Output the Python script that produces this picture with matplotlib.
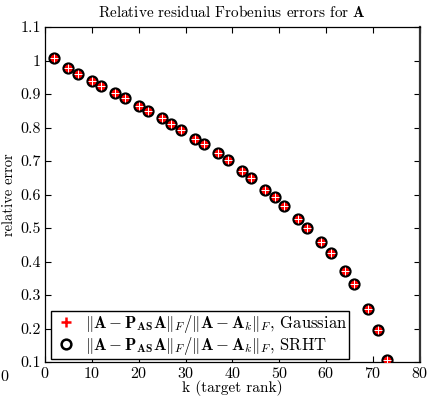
import numpy as np
import matplotlib
matplotlib.use("Agg")
import matplotlib.pyplot as plt
from matplotlib.lines import Line2D
from matplotlib.ticker import FuncFormatter

plt.rcParams['font.family'] = ['cmr10', 'DejaVu Serif']
plt.rcParams['mathtext.fontset'] = 'cm'
plt.rcParams['axes.formatter.use_mathtext'] = True
plt.rcParams['font.size'] = 11

# target rank k
k = [2, 5, 7, 10, 12, 15, 17, 20, 22, 25, 27, 29, 32, 34, 37, 39, 42, 44,
     47, 49, 51, 54, 56, 59, 61, 64, 66, 69, 71, 73]
err_gauss = [1.007, 0.977, 0.960, 0.939, 0.924, 0.902, 0.889, 0.865, 0.850,
             0.827, 0.810, 0.792, 0.765, 0.750, 0.725, 0.703, 0.669, 0.649,
             0.615, 0.592, 0.567, 0.528, 0.500, 0.459, 0.425, 0.372, 0.333,
             0.259, 0.197, 0.107]
err_srht = [1.007, 0.977, 0.960, 0.939, 0.924, 0.902, 0.889, 0.865, 0.850,
            0.827, 0.810, 0.792, 0.765, 0.750, 0.725, 0.703, 0.669, 0.649,
            0.615, 0.592, 0.567, 0.528, 0.500, 0.459, 0.425, 0.372, 0.333,
            0.259, 0.197, 0.107]

fig = plt.figure(figsize=(4.28, 3.97), dpi=100)
ax = fig.add_axes([0.105, 0.088, 0.876, 0.844])

# circles (SRHT) under the crosses (Gaussian)
ax.plot(k, err_srht, linestyle='none', marker='o', ms=7.2, mfc='red',
        mec='black', mew=1.6, zorder=3)
ax.plot(k, err_gauss, linestyle='none', marker='+', ms=5.5, color='white',
        mew=0.7, zorder=4)

ax.set_xlim(0, 80)
ax.set_ylim(0.1, 1.1)
ax.set_xticks(np.arange(0, 81, 10))
ax.set_yticks(np.arange(0.1, 1.11, 0.1))
ax.yaxis.set_major_formatter(FuncFormatter(lambda v, p: '%g' % round(v, 2)))
ax.tick_params(direction='in', top=True, right=True, length=4, width=0.8,
               labelsize=11.5, pad=3)
for s in ax.spines.values():
    s.set_linewidth(0.9)
ax.spines['right'].set_linewidth(1.6)
ax.spines['right'].set_color('#333333')

ax.set_title(r'Relative residual Frobenius errors for $\mathbf{A}$',
             fontsize=11, pad=7)
ax.set_xlabel('k (target rank)', fontsize=11, labelpad=-1)
ax.set_ylabel('relative error', fontsize=10.5, labelpad=3)

lab = r'$\Vert\mathbf{A}-\mathbf{P}_{\mathbf{AS}}\mathbf{A}\Vert_F/\Vert\mathbf{A}-\mathbf{A}_k\Vert_F$'
handles = [Line2D([], [], linestyle='none', marker='+', color='red', ms=7, mew=1.8),
           Line2D([], [], linestyle='none', marker='o', mfc='none', mec='black', ms=7, mew=1.8)]
leg = ax.legend(handles, [lab + ', Gaussian', lab + ', SRHT'], loc='lower left',
                bbox_to_anchor=(0.008, 0.0), fancybox=False, framealpha=1,
                edgecolor='black', fontsize=12, handletextpad=0.35,
                borderpad=0.1, labelspacing=0.0, handlelength=1.6,
                borderaxespad=0.2)
leg.get_frame().set_linewidth(1.0)

fig.text(0.0, 1 - 377 / 397, '0', fontsize=11.5, va='center', ha='left')

fig.savefig('out.png', dpi=100)
